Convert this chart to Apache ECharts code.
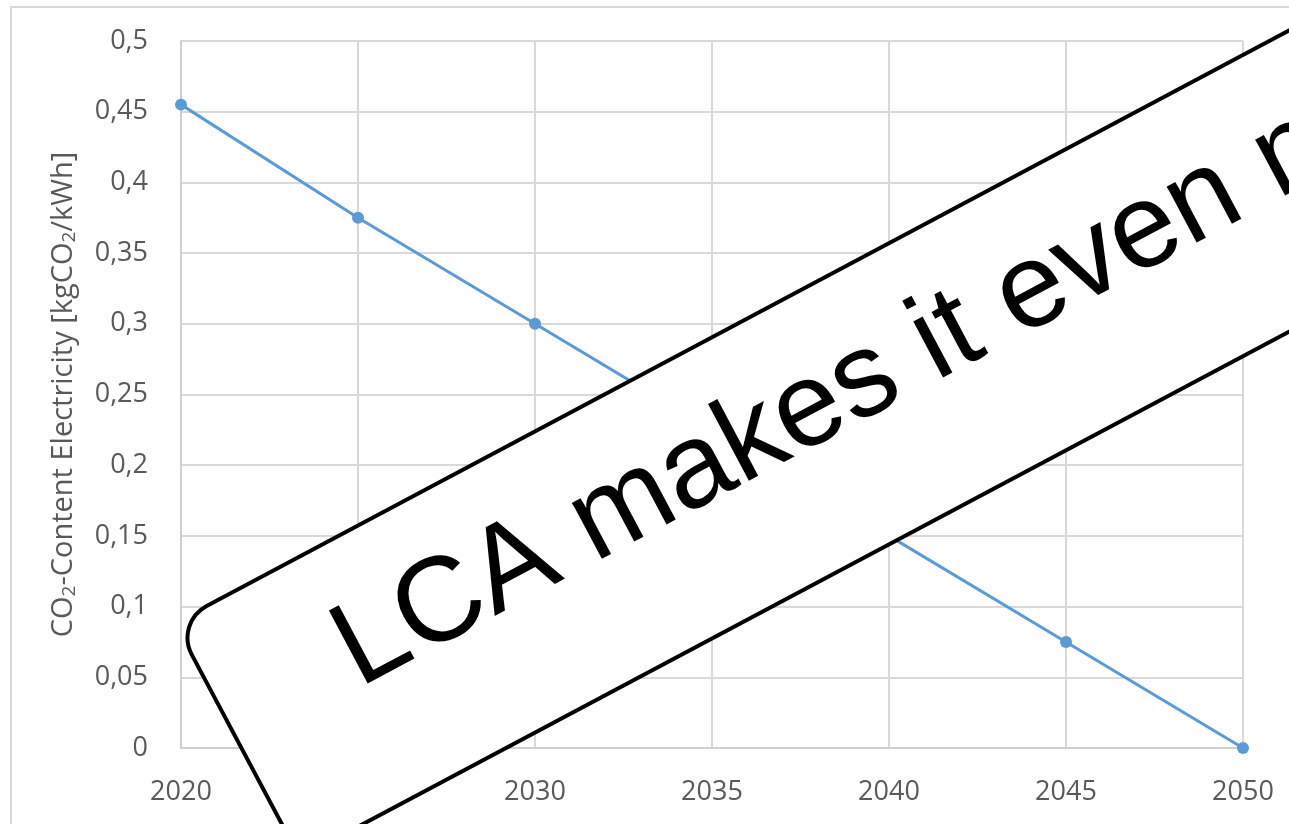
<!DOCTYPE html>
<html>
<head>
<meta charset="utf-8">
<title>CO2-Content Electricity</title>
<script src="https://cdn.jsdelivr.net/npm/echarts@6/dist/echarts.min.js"></script>
<style>
  html, body { margin: 0; padding: 0; background: #ffffff; }
  #chart { width: 1289px; height: 824px; }
</style>
</head>
<body>
<div id="chart"></div>
<script>
// Grid-electricity carbon intensity pathway
const years = [2020, 2025, 2030, 2035, 2040, 2045, 2050];
const co2Content = [0.455, 0.375, 0.30, 0.225, 0.15, 0.075, 0];
const yAxisTitle = '{a|CO}{s|2}{a|-Content Electricity [kgCO}{s|2}{a|/kWh]}';
const bannerText = 'LCA makes it even more';

const labelFont = '"Open Sans", "Noto Sans", sans-serif';
const gridGrey = '#d9d9d9';

const chart = echarts.init(document.getElementById('chart'), null, { renderer: 'canvas' });

const deg = Math.PI / 180;

chart.setOption({
  backgroundColor: '#ffffff',
  animation: false,
  grid: { left: 181, right: 46, top: 41, bottom: 76, containLabel: false },
  xAxis: {
    type: 'value',
    min: 2020,
    max: 2050,
    interval: 5,
    axisLine: { show: true, lineStyle: { color: '#d0d0d0', width: 2 } },
    axisTick: { show: false },
    splitLine: { show: true, lineStyle: { color: gridGrey, width: 2 } },
    axisLabel: {
      color: '#595959',
      fontFamily: labelFont,
      fontSize: 27,
      margin: 31,
      formatter: v => String(v)
    }
  },
  yAxis: {
    type: 'value',
    min: 0,
    max: 0.5,
    interval: 0.05,
    name: yAxisTitle,
    nameLocation: 'middle',
    nameGap: 102,
    nameTextStyle: {
      color: '#595959',
      fontFamily: labelFont,
      rich: {
        a: { fontSize: 29, fontFamily: labelFont, color: '#595959' },
        s: { fontSize: 19, fontFamily: labelFont, color: '#595959', padding: [12, 0, 0, 0] }
      }
    },
    axisLine: { show: true, lineStyle: { color: '#d0d0d0', width: 2 } },
    axisTick: { show: false },
    splitLine: { show: true, lineStyle: { color: gridGrey, width: 2 } },
    axisLabel: {
      color: '#595959',
      fontFamily: labelFont,
      fontSize: 27,
      margin: 33,
      formatter: v => String(+v.toFixed(2)).replace('.', ',')
    }
  },
  series: [{
    type: 'line',
    data: years.map((y, i) => [y, co2Content[i]]),
    symbol: 'circle',
    symbolSize: 12,
    lineStyle: { color: '#5b9bd5', width: 3 },
    itemStyle: { color: '#5b9bd5' },
    z: 3
  }],
  graphic: [
    {
      // outer chart frame
      type: 'rect',
      z: 1,
      silent: true,
      shape: { x: 11, y: 7, width: 1500, height: 1000 },
      style: { fill: 'none', stroke: '#d9d9d9', lineWidth: 2 }
    },
    {
      // tilted sign laid over the plot
      type: 'group',
      x: 0,
      y: 0,
      rotation: 28 * deg,
      z: 100,
      children: [
        {
          type: 'rect',
          z: 100,
          zlevel: 0,
          shape: { x: -138, y: 632, width: 1800, height: 266, r: 36 },
          style: { fill: '#ffffff', stroke: '#000000', lineWidth: 4 }
        },
        {
          type: 'text',
          z: 101,
          x: -6,
          y: 743,
          style: {
            text: bannerText,
            font: '120px "Liberation Sans", Arial, sans-serif',
            fill: '#000000',
            align: 'left',
            verticalAlign: 'middle',
            textAlign: 'left',
            textVerticalAlign: 'middle'
          }
        }
      ]
    }
  ]
});
</script>
</body>
</html>
